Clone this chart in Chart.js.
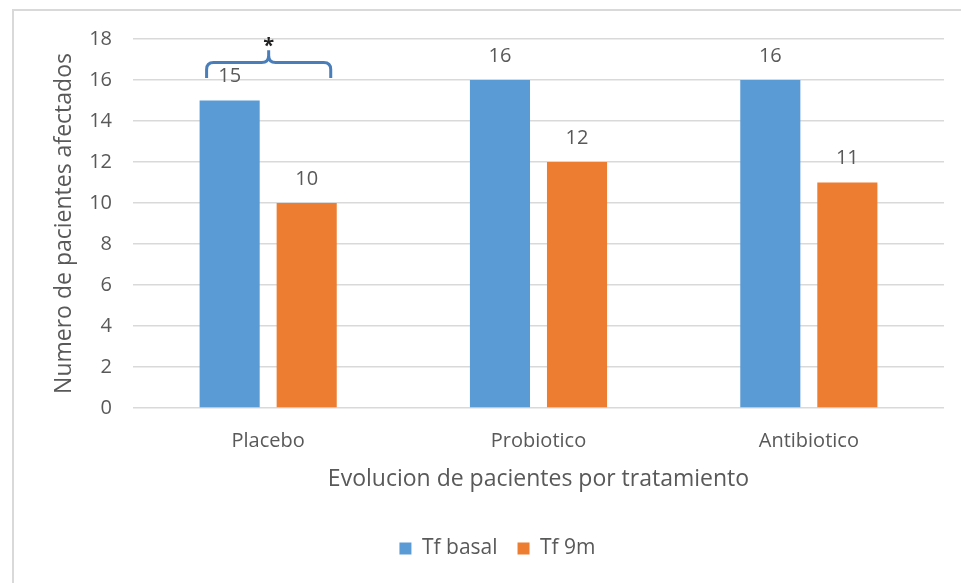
<!DOCTYPE html>
<html>
<head>
<meta charset="utf-8">
<script src="https://cdn.jsdelivr.net/npm/chart.js@4"></script>
<style>
  html, body { margin: 0; padding: 0; background: #fff; }
  #wrap { position: relative; width: 961px; height: 583px; overflow: hidden; }
  #frame { position: absolute; left: 12px; top: 9px; width: 960px; height: 600px;
           border-top: 2px solid #d9d9d9; border-left: 2px solid #d9d9d9; }
  canvas { position: absolute; left: 0; top: 0; }
</style>
</head>
<body>
<div id="wrap">
  <div id="frame"></div>
  <canvas id="c" width="961" height="583"></canvas>
</div>
<script>
// Patients affected per treatment group, at baseline and after 9 months
const categories = ['Placebo', 'Probiotico', 'Antibiotico'];
const tfBasal = [15, 16, 16];
const tf9m = [10, 12, 11];
const yTicks = [0, 2, 4, 6, 8, 10, 12, 14, 16, 18];

const FONT = "'Open Sans', 'Noto Sans', sans-serif";
const TEXT = '#595959';

// Values above every bar
const valueLabels = {
  id: 'valueLabels',
  afterDatasetsDraw(chart) {
    const ctx = chart.ctx;
    ctx.save();
    ctx.font = '20px ' + FONT;
    ctx.fillStyle = TEXT;
    ctx.textAlign = 'center';
    ctx.textBaseline = 'middle';
    chart.data.datasets.forEach((ds, di) => {
      chart.getDatasetMeta(di).data.forEach((bar, i) => {
        ctx.fillText(String(ds.data[i]), bar.x, bar.y - 24);
      });
    });
    ctx.restore();
  }
};

// Significance bracket with asterisk over the Placebo pair
const sigBracket = {
  id: 'sigBracket',
  afterDatasetsDraw(chart) {
    const ctx = chart.ctx;
    const y = chart.scales.y;
    const a = chart.getDatasetMeta(0).data[0];
    const b = chart.getDatasetMeta(1).data[0];
    const x1 = a.x - a.width / 2 + 7;
    const x2 = b.x + b.width / 2 - 6;
    const xm = (x1 + x2) / 2;
    const yEnd = y.getPixelForValue(16.1);
    const yBar = y.getPixelForValue(16.85);
    const yTip = y.getPixelForValue(17.45);
    const r = 7;
    ctx.save();
    ctx.strokeStyle = '#4A7EBB';
    ctx.lineWidth = 3;
    ctx.lineCap = 'butt';
    ctx.beginPath();
    ctx.moveTo(x1, yEnd);
    ctx.lineTo(x1, yBar + r);
    ctx.quadraticCurveTo(x1, yBar, x1 + r, yBar);
    ctx.lineTo(xm - r, yBar);
    ctx.quadraticCurveTo(xm, yBar, xm, yBar - r);
    ctx.lineTo(xm, yTip);
    ctx.moveTo(xm, yBar - r);
    ctx.quadraticCurveTo(xm, yBar, xm + r, yBar);
    ctx.lineTo(x2 - r, yBar);
    ctx.quadraticCurveTo(x2, yBar, x2, yBar + r);
    ctx.lineTo(x2, yEnd);
    ctx.stroke();
    ctx.fillStyle = '#222';
    ctx.font = 'bold 20px ' + FONT;
    ctx.textAlign = 'center';
    ctx.textBaseline = 'middle';
    ctx.fillText('*', xm, yTip - 4);
    ctx.restore();
  }
};

new Chart(document.getElementById('c'), {
  type: 'bar',
  data: {
    labels: categories,
    datasets: [
      { label: 'Tf basal', data: tfBasal, backgroundColor: '#5B9BD5',
        categoryPercentage: 0.57, barPercentage: 0.78 },
      { label: 'Tf 9m', data: tf9m, backgroundColor: '#ED7D31',
        categoryPercentage: 0.57, barPercentage: 0.78 }
    ]
  },
  options: {
    responsive: false,
    animation: false,
    devicePixelRatio: 1,
    layout: { padding: { left: 51, right: 17, top: 39, bottom: 14 } },
    plugins: {
      tooltip: { enabled: false },
      legend: {
        position: 'bottom',
        labels: {
          font: { family: FONT, size: 21 }, color: TEXT,
          boxWidth: 12, boxHeight: 12, padding: 20
        }
      }
    },
    scales: {
      x: {
        grid: { display: false, drawTicks: false },
        border: { display: false },
        ticks: { font: { family: FONT, size: 20 }, color: TEXT, padding: 21 },
        title: { display: true, text: 'Evolucion de pacientes por tratamiento',
                 font: { family: FONT, size: 23 }, color: TEXT,
                 padding: { top: 0, bottom: 25 } },
        afterFit(scale) { scale.height = 110; }
      },
      y: {
        min: 0, max: 18,
        afterBuildTicks(scale) { scale.ticks = yTicks.map(v => ({ value: v })); },
        grid: { color: '#d9d9d9', lineWidth: 1.5, drawTicks: false },
        border: { display: false },
        ticks: { font: { family: FONT, size: 20 }, color: TEXT, padding: 21 },
        title: { display: true, text: 'Numero de pacientes afectados',
                 font: { family: FONT, size: 23 }, color: TEXT, padding: 0 },
        afterFit(scale) { scale.width = 82; }
      }
    }
  },
  plugins: [valueLabels, sigBracket]
});
</script>
</body>
</html>
